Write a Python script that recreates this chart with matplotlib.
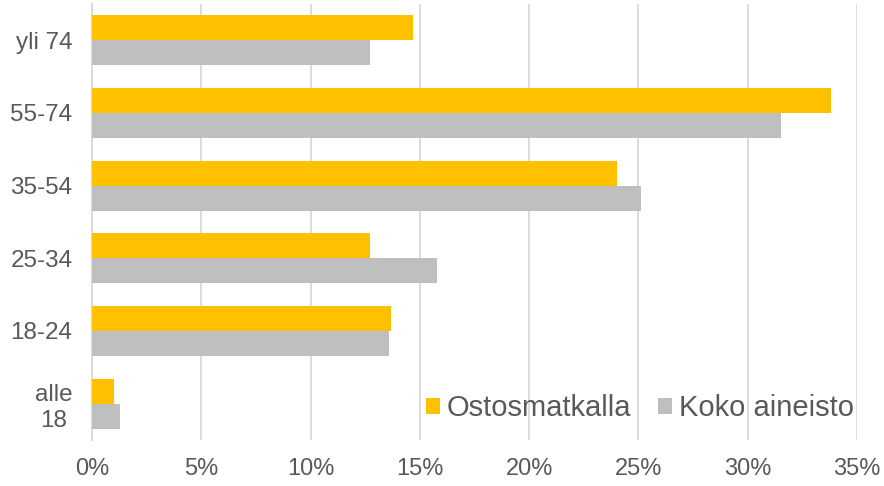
import matplotlib
matplotlib.use("Agg")
import matplotlib.pyplot as plt
import numpy as np
from matplotlib.ticker import FuncFormatter

categories = ["alle\n18", "18-24", "25-34", "35-54", "55-74", "yli 74"]
ostos = [1.0, 13.7, 12.7, 24.0, 33.8, 14.7]
koko = [1.3, 13.6, 15.8, 25.1, 31.5, 12.7]
series_names = ["Ostosmatkalla", "Koko aineisto"]
xticks = [0, 5, 10, 15, 20, 25, 30, 35]

plt.rcParams['font.family'] = ['Liberation Sans', 'DejaVu Sans']
text_color = "#595959"

fig = plt.figure(figsize=(8.84, 4.86), dpi=100)
ax = fig.add_axes([0.104, 0.0947, 0.8655, 0.8971])

y = np.arange(len(categories))
h = 0.345
ax.barh(y + h / 2, ostos, height=h, color="#FFC000", label=series_names[0], zorder=3)
ax.barh(y - h / 2, koko, height=h, color="#BFBFBF", label=series_names[1], zorder=3)

ax.set_xlim(0, 35)
ax.set_ylim(-0.5, len(categories) - 0.5)
ax.set_xticks(xticks)
ax.xaxis.set_major_formatter(FuncFormatter(lambda v, p: f"{int(v)}%"))
ax.set_yticks(y)
ax.set_yticklabels(categories, multialignment='center')
ax.grid(axis='x', color="#D9D9D9", linewidth=1.3, zorder=0)
for s in ['top', 'right', 'bottom']:
    ax.spines[s].set_visible(False)
ax.spines['left'].set_color("#D9D9D9")
ax.spines['left'].set_linewidth(1.3)
ax.tick_params(axis='both', length=0, colors=text_color)
ax.tick_params(axis='y', labelsize=17.5, pad=14)
ax.tick_params(axis='x', labelsize=17, pad=13)

leg = ax.legend(loc='center right', bbox_to_anchor=(1.011, 0.073), ncol=2, frameon=False,
                fontsize=21, handlelength=0.48, handleheight=0.48, handletextpad=0.22,
                columnspacing=0.95, borderaxespad=0)
for t in leg.get_texts():
    t.set_color(text_color)

fig.savefig("out.png", dpi=100)
